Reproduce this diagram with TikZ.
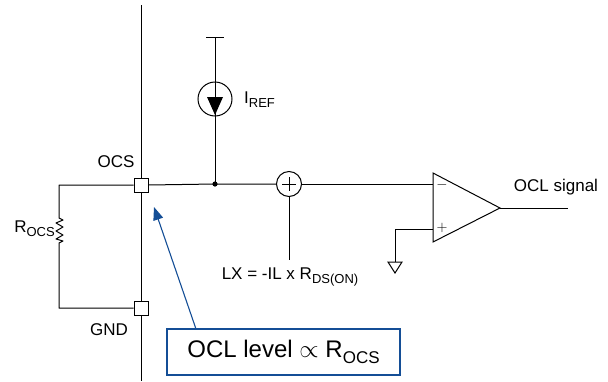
\documentclass[tikz,border=0pt]{standalone}
\usepackage{amsmath}
\usepackage{amssymb}
\usepackage{fontspec}
\setmainfont{Liberation Sans}
\usetikzlibrary{positioning,arrows.meta}
\definecolor{noteblue}{RGB}{20,78,150}
\newcommand{\lowtxt}[1]{\raisebox{-0.45ex}{\fontsize{13}{13}\selectfont #1}}
\newcommand{\biglow}[1]{\raisebox{-0.45ex}{\fontsize{17}{17}\selectfont #1}}

\begin{document}
\begin{tikzpicture}[x=1pt,y=-1pt,
    wire/.style={draw=black,line width=1pt},
    pin/.style={draw=black,fill=white,line width=1pt,minimum size=14pt,inner sep=0pt},
    lbl/.style={font=\fontsize{17}{20}\selectfont,inner sep=0pt},
    notebox/.style={draw=noteblue,line width=1.2pt,minimum width=233pt,minimum height=46pt,inner sep=0pt,font=\fontsize{24}{27}\selectfont}]
            \useasboundingbox (0,0) rectangle (608,381);
            % chip edge and pins
            \coordinate (edgetop) at (141,5);
            \coordinate (edgebot) at (141,381);
            \draw[wire] (edgetop) -- (edgebot);
            \node[pin] (ocs) at (141,185) {};
            \node[pin] (gnd) at (141,308) {};
            \node[lbl] (ocslbl) at (116,162) {OCS};
            \node[lbl] (gndlbl) at (109,330) {GND};
            % external resistor
            \coordinate (rtop) at (59,185);
            \coordinate (rbot) at (59,308);
            \draw[wire,line join=round] (ocs.west) -- (rtop) -- (59,218) -- (63,220) -- (56,223) -- (63,227) -- (56,231)
                -- (63,235) -- (56,239) -- (63,241) -- (59,243) -- (rbot) -- (gnd.west);
            \node[lbl,anchor=east] (rocs) at (55,229) {R\lowtxt{OCS}};
            % reference current
            \coordinate (itop) at (215,37);
            \coordinate (node1) at (215,184);
            \node[circle,draw=black,line width=1pt,minimum size=34pt,inner sep=0pt] (isrc) at (215,99) {};
            \draw[wire] (206,37) -- (224,37);
            \draw[wire] (itop) -- (isrc.north);
            \draw[wire] (isrc.south) -- (node1);
            \draw[wire] (isrc.north) -- (isrc.south);
            \fill[black] (207,97) -- (223,97) -- (215,115) -- cycle;
            \fill (node1) circle (2.6pt);
            \node[lbl,anchor=west] (iref) at (244,100) {I\lowtxt{REF}};
            % sum node
            \node[circle,draw=black,line width=1pt,minimum size=25pt,inner sep=0pt] (sum) at (289,184) {};
            \draw[wire] (282,184) -- (296,184);
            \draw[wire] (289,177) -- (289,191);
            \coordinate (lxend) at (289,260);
            \draw[wire] (sum.south) -- (lxend);
            \node[lbl] (lx) at (290,277) {LX = -IL x R\lowtxt{DS(ON)}};
            % comparator
            \coordinate (cmpm) at (433,184);
            \coordinate (cmpp) at (433,229);
            \coordinate (cmpo) at (500,208);
            \coordinate (outend) at (568,208);
            \draw[wire,line join=miter] (433,173) -- (433,242) -- (cmpo) -- cycle;
            \node[font=\fontsize{15}{15}\selectfont,inner sep=0pt] (minus) at (442,185) {$-$};
            \node[font=\fontsize{15}{15}\selectfont,inner sep=0pt] (plus) at (442,228) {$+$};
            \draw[wire] (ocs.east) -- (node1) -- (sum.west);
            \draw[wire] (sum.east) -- (cmpm);
            \draw[wire] (cmpo) -- (outend);
            \node[lbl] (ocl) at (556,187) {OCL signal};
            % ground on + input
            \coordinate (gndtop) at (395,262);
            \draw[wire] (cmpp) -- (395,229) -- (gndtop);
            \draw[wire,line join=miter] (388,262) -- (402,262) -- (395,273) -- cycle;
            % note
            \node[notebox] (note) at (283.5,352) {OCL level $\propto$ R\biglow{OCS}};
            \coordinate (notetip) at (154,207);
            \draw[noteblue,line width=1.1pt,-{Triangle[length=13pt,width=10pt]}] (196,329) -- (notetip);
          \end{tikzpicture}
\end{document}
